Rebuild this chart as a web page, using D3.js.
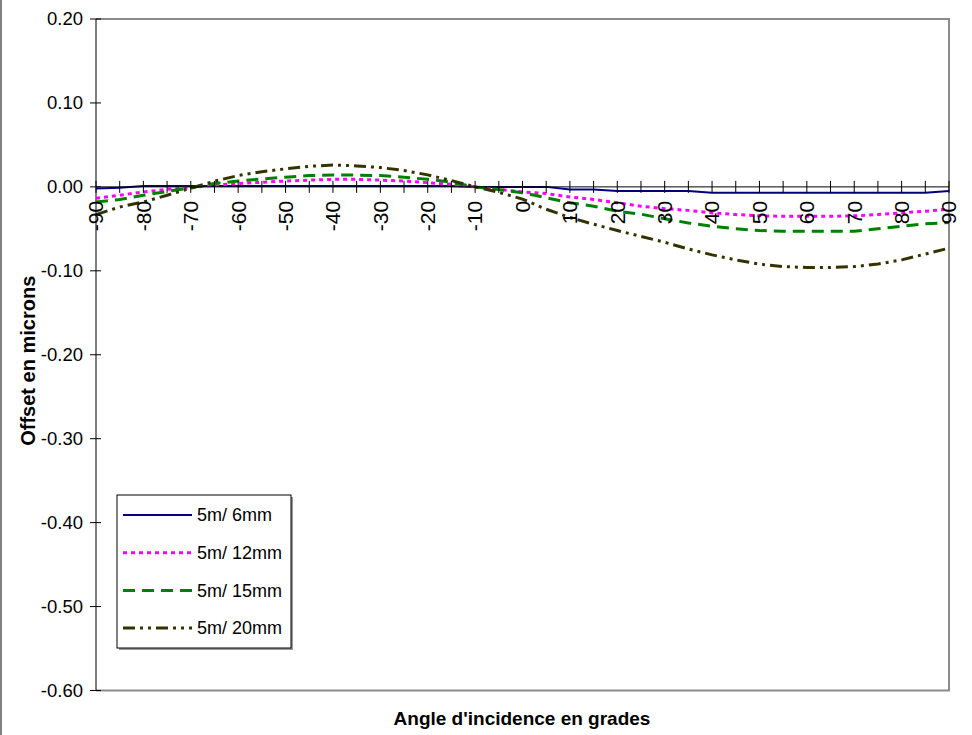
<!DOCTYPE html>
<html>
  <head>
    <meta charset="utf-8">
    <style>
      body { margin: 0; background: #fff; }
      text { font-family: Arial, 'Liberation Sans', sans-serif; fill: #000; }
      .title { font-weight: bold; }
    </style>
  </head>
  <body>
    <script src="https://d3js.org/d3.v7.min.js"></script>
    <script>
      var width = 972;
      var height = 735;

      // categories (grades)
      var angles = [-90, -85, -80, -75, -70, -65, -60, -55, -50, -45, -40, -35, -30, -25, -20, -15, -10, -5,
                    0, 5, 10, 15, 20, 25, 30, 35, 40, 45, 50, 55, 60, 65, 70, 75, 80, 85, 90];
      var angleLabels = [-90, -80, -70, -60, -50, -40, -30, -20, -10, 0, 10, 20, 30, 40, 50, 60, 70, 80, 90];
      var yTicks = [0.2, 0.1, 0, -0.1, -0.2, -0.3, -0.4, -0.5, -0.6];
      var seriesNames = ["5m/ 6mm", "5m/ 12mm", "5m/ 15mm", "5m/ 20mm"];

      var s6mm = [-0.002, -0.001, 0.001, 0.001, 0.001, 0.001, 0.001, 0.001, 0.001, 0.001, 0.001, 0.001, 0.001, 0.001, 0.001, 0.001, 0.000, 0.000,
                  0.000, 0.000, -0.003, -0.003, -0.005, -0.005, -0.005, -0.005, -0.007, -0.007, -0.007, -0.007, -0.007, -0.007, -0.007, -0.007, -0.007, -0.007, -0.005];
      var s12mm = [-0.0135, -0.010, -0.006, -0.003, -0.001, 0.002, 0.004, 0.0055, 0.007, 0.008, 0.009, 0.009, 0.008, 0.007, 0.005, 0.003, 0.000, -0.003,
                   -0.006, -0.008, -0.012, -0.015, -0.019, -0.023, -0.026, -0.028, -0.031, -0.033, -0.0345, -0.035, -0.035, -0.035, -0.0345, -0.033, -0.031, -0.029, -0.0265];
      var s15mm = [-0.018, -0.015, -0.010, -0.0055, -0.001, 0.004, 0.007, 0.0095, 0.0115, 0.0135, 0.014, 0.014, 0.0135, 0.0115, 0.009, 0.0055, 0.000, -0.003,
                   -0.007, -0.013, -0.019, -0.023, -0.029, -0.0325, -0.038, -0.043, -0.047, -0.050, -0.052, -0.053, -0.053, -0.053, -0.053, -0.050, -0.047, -0.044, -0.0425];
      var s20mm = [-0.033, -0.024, -0.018, -0.010, -0.0015, 0.0068, 0.0135, 0.018, 0.0215, 0.0245, 0.026, 0.025, 0.023, 0.0195, 0.0143, 0.0075, 0.000, -0.0065,
                   -0.0146, -0.0266, -0.0365, -0.0445, -0.052, -0.059, -0.066, -0.074, -0.081, -0.087, -0.092, -0.095, -0.096, -0.096, -0.095, -0.092, -0.087, -0.080, -0.073];

      var seriesValues = [s6mm, s12mm, s15mm, s20mm];
      var seriesColors = ["#000080", "#ff00ff", "#008000", "#333300"];
      var seriesDash = [null, "4,4", "12,7", "12,5,3,5,3,5"];
      var seriesWidth = [2, 3, 3, 3];

      var plotLeft = 96, plotRight = 949, plotTop = 19, plotBottom = 690.5;

      var svg = d3.select("body")
        .append("svg")
        .attr("width", width)
        .attr("height", height);

      svg.append("rect").attr("width", width).attr("height", height).attr("fill", "#fff");

      // chart area border on the left edge
      svg.append("line")
        .attr("x1", 1).attr("x2", 1).attr("y1", 0).attr("y2", height)
        .attr("stroke", "#808080").attr("stroke-width", 2);

      var x = d3.scalePoint().domain(angles).range([plotLeft, plotRight]);
      var y = d3.scaleLinear().domain([-0.6, 0.2]).range([plotBottom, plotTop]);

      // plot area frame (grey) top, right, bottom
      svg.append("path")
        .attr("d", "M" + plotLeft + "," + plotTop + "H" + plotRight + "V" + plotBottom + "H" + plotLeft)
        .attr("fill", "none")
        .attr("stroke", "#8c8c8c")
        .attr("stroke-width", 2);

      // y axis
      var yAxis = svg.append("g");
      yAxis.append("line")
        .attr("x1", plotLeft).attr("x2", plotLeft).attr("y1", plotTop).attr("y2", plotBottom)
        .attr("stroke", "#000").attr("stroke-width", 1);
      yAxis.selectAll(".yt")
        .data(yTicks)
        .enter().append("line")
        .attr("x1", plotLeft - 6).attr("x2", plotLeft + 5)
        .attr("y1", function(d) { return y(d); })
        .attr("y2", function(d) { return y(d); })
        .attr("stroke", "#000");
      yAxis.selectAll(".yl")
        .data(yTicks)
        .enter().append("text")
        .attr("x", 83)
        .attr("y", function(d) { return y(d); })
        .attr("dy", "0.35em")
        .attr("text-anchor", "end")
        .style("font-size", "18.5px")
        .text(function(d) { return d.toFixed(2); });

      // series lines
      var line = d3.line()
        .x(function(d, i) { return x(angles[i]); })
        .y(function(d) { return y(d); });

      svg.selectAll(".series")
        .data(seriesValues)
        .enter().append("path")
        .attr("fill", "none")
        .attr("d", line)
        .attr("stroke", function(d, i) { return seriesColors[i]; })
        .attr("stroke-width", function(d, i) { return seriesWidth[i]; })
        .attr("stroke-dasharray", function(d, i) { return seriesDash[i]; });

      // x axis at zero
      var xAxis = svg.append("g");
      xAxis.append("line")
        .attr("x1", plotLeft).attr("x2", plotRight).attr("y1", y(0)).attr("y2", y(0))
        .attr("stroke", "#000");
      xAxis.selectAll(".xt")
        .data(angles)
        .enter().append("line")
        .attr("x1", function(d) { return x(d); })
        .attr("x2", function(d) { return x(d); })
        .attr("y1", y(0) - 6).attr("y2", y(0) + 6)
        .attr("stroke", "#000");
      xAxis.selectAll(".xl")
        .data(angleLabels)
        .enter().append("text")
        .attr("transform", function(d) { return "translate(" + x(d) + "," + (y(0) + 14) + ") rotate(-90)"; })
        .attr("dy", "0.35em")
        .attr("text-anchor", "end")
        .style("font-size", "21px")
        .text(function(d) { return d; });

      // axis titles
      svg.append("text")
        .attr("class", "title")
        .attr("x", 522).attr("y", 725)
        .attr("text-anchor", "middle")
        .style("font-size", "19px")
        .text("Angle d'incidence en grades");

      svg.append("text")
        .attr("class", "title")
        .attr("transform", "translate(35," + ((plotTop + plotBottom) / 2 + 6) + ") rotate(-90)")
        .attr("text-anchor", "middle")
        .style("font-size", "20px")
        .text("Offset en microns");

      // legend
      var legend = svg.append("g").attr("transform", "translate(117,495)");
      legend.append("rect")
        .attr("x", 2).attr("y", 2).attr("width", 174).attr("height", 153)
        .attr("fill", "#999");
      legend.append("rect")
        .attr("width", 174).attr("height", 153)
        .attr("fill", "#fff").attr("stroke", "#000").attr("stroke-width", 1);

      var item = legend.selectAll(".item")
        .data(seriesNames)
        .enter().append("g")
        .attr("transform", function(d, i) { return "translate(0," + (20 + i * 37.7) + ")"; });
      item.append("line")
        .attr("x1", 6).attr("x2", 75)
        .attr("stroke", function(d, i) { return seriesColors[i]; })
        .attr("stroke-width", function(d, i) { return seriesWidth[i]; })
        .attr("stroke-dasharray", function(d, i) { return seriesDash[i]; });
      item.append("text")
        .attr("x", 80)
        .attr("dy", "0.35em")
        .style("font-size", "18px")
        .text(function(d) { return d; });
    </script>
  </body>
</html>
